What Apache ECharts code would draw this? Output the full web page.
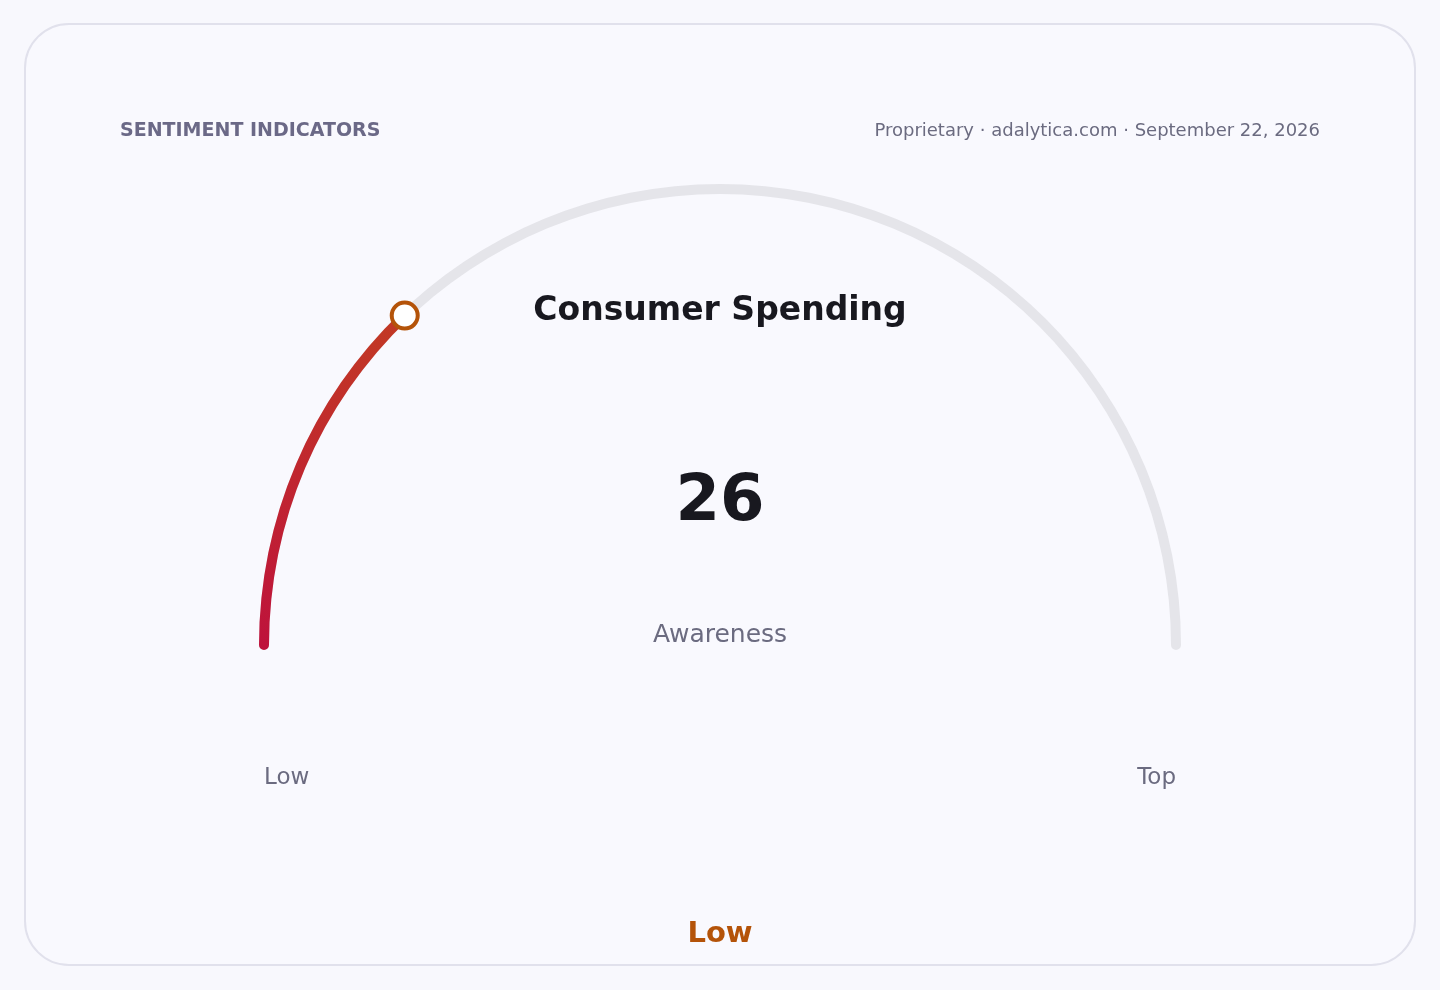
<!DOCTYPE html>
<html>
<head>
<meta charset="utf-8">
<script src="https://cdn.jsdelivr.net/npm/echarts@6/dist/echarts.min.js"></script>
<style>
  html, body { margin: 0; padding: 0; background: #f8f8fd; }
  #chart { width: 1440px; height: 990px; }
</style>
</head>
<body>
<div id="chart"></div>
<script>
'use strict';

// data
const indicator = 'Consumer Spending';
const metricName = 'Awareness';
const metricValue = 25.7;
const scaleMin = 0, scaleMax = 100;
const scaleLabels = ['Low', 'Top'];
const band = 'Low';

const FONT = '"DejaVu Sans", sans-serif';
const chart = echarts.init(document.getElementById('chart'), null, { renderer: 'canvas' });

const center = [720, 645];

const option = {
  backgroundColor: '#f8f8fd',
  animation: false,
  graphic: [
    {
      type: 'rect', z: -10,
      shape: { x: 25, y: 24, width: 1390, height: 941, r: 44 },
      style: { fill: '#f9f9fe', stroke: '#e1e1ec', lineWidth: 2 }
    },
    {
      type: 'text', left: 264, top: 767,
      style: { text: scaleLabels[0], font: '23px ' + FONT, fill: '#6b6b80' }
    },
    {
      type: 'text', right: 1440 - 1176, top: 767,
      style: { text: scaleLabels[1], font: '23px ' + FONT, fill: '#6b6b80', textAlign: 'right' }
    }
  ],
  title: [
    {
      text: 'SENTIMENT INDICATORS', left: 120, top: 122, padding: 0,
      textStyle: { fontFamily: FONT, fontSize: 19, fontWeight: 'bold', color: '#6b6987' }
    },
    {
      text: 'Proprietary · adalytica.com · September 22, 2026', right: 120, top: 122, padding: 0,
      textStyle: { fontFamily: FONT, fontSize: 18, fontWeight: 'normal', color: '#6b6b80' }
    },
    {
      text: indicator, left: 'center', top: 290,
      textStyle: { fontFamily: FONT, fontSize: 33, fontWeight: 'bold', color: '#18181f' }
    },
    {
      text: band, left: 'center', top: 915,
      textStyle: { fontFamily: FONT, fontSize: 29, fontWeight: 'bold', color: '#b45309' }
    }
  ],
  polar: { center: center, radius: [0, 456] },
  angleAxis: {
    type: 'value', min: scaleMin, max: scaleMax, startAngle: 180, endAngle: 0, clockwise: true,
    show: false
  },
  radiusAxis: { type: 'value', min: 0, max: 1, show: false },
  series: [
    {
      type: 'gauge',
      center: center,
      radius: 461,
      startAngle: 180,
      endAngle: 0,
      min: scaleMin,
      max: scaleMax,
      axisLine: { roundCap: true, lineStyle: { width: 10, color: [[1, '#e5e5ea']] } },
      progress: {
        show: true, roundCap: true, width: 10,
        itemStyle: {
          color: new echarts.graphic.LinearGradient(0, 1, 0, 0, [
            { offset: 0, color: '#be123c' },
            { offset: 1, color: '#c23a24' }
          ])
        }
      },
      pointer: { show: false },
      axisTick: { show: false },
      splitLine: { show: false },
      axisLabel: { show: false },
      anchor: { show: false },
      title: {
        offsetCenter: [0, -10],
        fontFamily: FONT, fontSize: 25, color: '#6b6b80'
      },
      detail: {
        offsetCenter: [0, -142],
        fontFamily: FONT, fontSize: 64, fontWeight: 'bold', color: '#18181f',
        formatter: v => String(Math.round(v))
      },
      data: [{ value: metricValue, name: metricName }]
    },
    {
      type: 'scatter',
      coordinateSystem: 'polar',
      symbol: 'circle',
      symbolSize: 26,
      z: 5,
      itemStyle: { color: '#ffffff', borderColor: '#b45309', borderWidth: 4, opacity: 1 },
      data: [[1, metricValue]]
    }
  ]
};

chart.setOption(option);
</script>
</body>
</html>
